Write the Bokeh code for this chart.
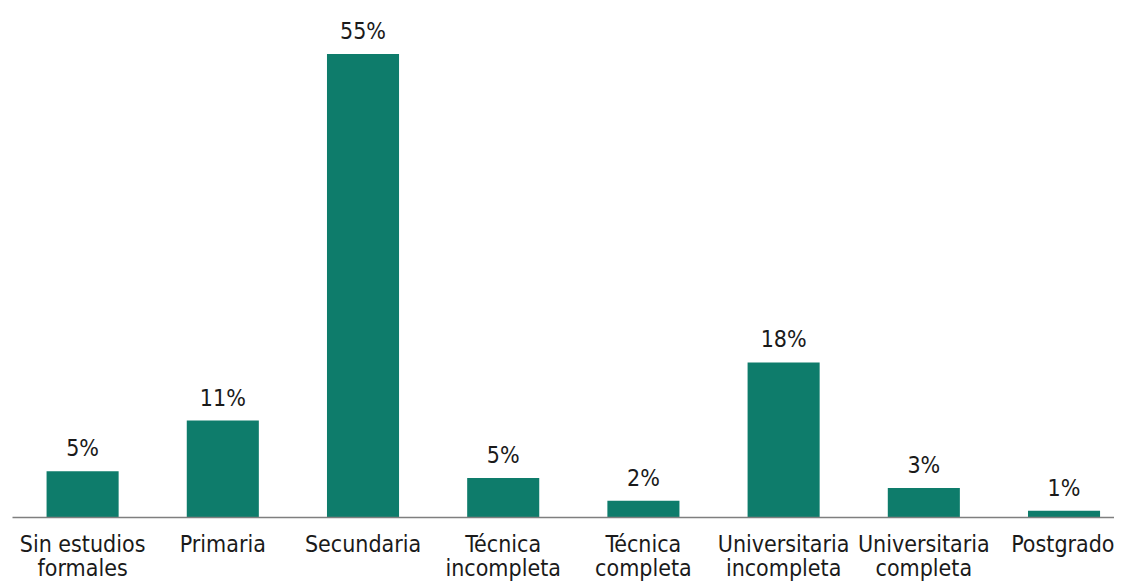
from bokeh.plotting import figure
from bokeh.models import ColumnDataSource, Range1d, FixedTicker
from bokeh.core.properties import value
from bokeh.embed import file_html
from bokeh.resources import INLINE

categories = ["Sin estudios formales", "Primaria", "Secundaria", "Técnica incompleta",
              "Técnica completa", "Universitaria incompleta", "Universitaria completa", "Postgrado"]
tick_labels = ["Sin estudios\nformales", "Primaria", "Secundaria", "Técnica\nincompleta",
               "Técnica\ncompleta", "Universitaria\nincompleta", "Universitaria\ncompleta", "Postgrado"]
values = [5.5, 11.5, 55.0, 4.7, 2.0, 18.4, 3.5, 0.8]
value_labels = ["5%", "11%", "55%", "5%", "2%", "18%", "3%", "1%"]

positions = list(range(len(categories)))
src = ColumnDataSource(dict(x=positions, top=values, lab=value_labels, cat=categories))

FONT = "DejaVu Sans Condensed"

p = figure(width=1114, height=584, output_backend="svg", toolbar_location=None,
           x_range=Range1d(-0.5, 7.36), y_range=Range1d(0, 61.35),
           min_border_left=12, min_border_right=0, min_border_top=0, min_border_bottom=64)
p.outline_line_color = None
p.grid.grid_line_color = None
p.background_fill_color = "white"
p.border_fill_color = "white"

p.vbar(x="x", top="top", bottom=0, width=0.514, source=src,
       fill_color="#0E7C6B", line_color=None)
p.text(x="x", y="top", text="lab", source=src, text_align="center",
       text_baseline="alphabetic", y_offset=-23, text_font_size="23px",
       text_font=value(FONT), text_color="#1a1a1a")

p.yaxis.visible = False
ax = p.xaxis[0]
ax.ticker = FixedTicker(ticks=positions)
ax.major_label_overrides = {i: t for i, t in enumerate(tick_labels)}
ax.axis_line_color = "#7f7f7f"
ax.axis_line_width = 1.5
ax.major_tick_line_color = None
ax.minor_tick_line_color = None
ax.major_tick_out = 0
ax.major_tick_in = 0
ax.major_label_standoff = 13
ax.major_label_text_font = FONT
ax.major_label_text_font_size = "23px"
ax.major_label_text_color = "#1a1a1a"
ax.major_label_text_line_height = 0.96

open("out.html", "w").write(file_html(p, INLINE))
